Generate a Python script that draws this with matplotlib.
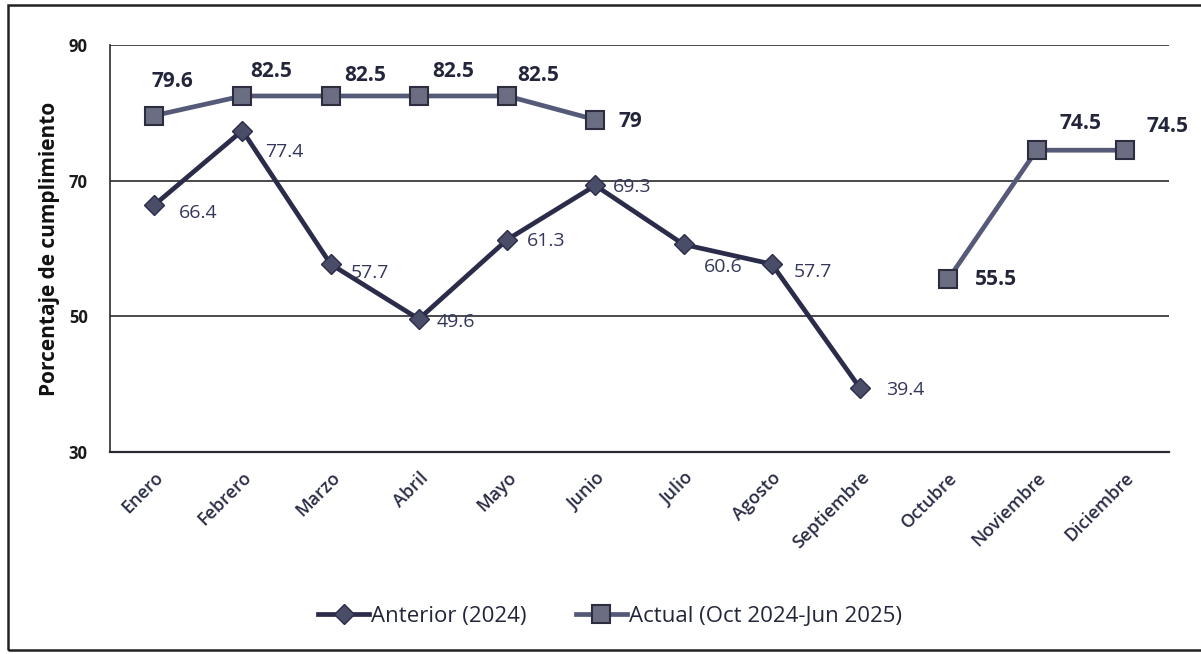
import matplotlib.pyplot as plt
from matplotlib.patches import Rectangle
import numpy as np

plt.rcParams['font.family'] = ['Open Sans', 'DejaVu Sans']

meses = ["Enero", "Febrero", "Marzo", "Abril", "Mayo", "Junio", "Julio",
         "Agosto", "Septiembre", "Octubre", "Noviembre", "Diciembre"]
anterior = [66.4, 77.4, 57.7, 49.6, 61.3, 69.3, 60.6, 57.7, 39.4,
            np.nan, np.nan, np.nan]
actual = [79.6, 82.5, 82.5, 82.5, 82.5, 79, np.nan, np.nan, np.nan,
          55.5, 74.5, 74.5]
yticks = [30, 50, 70, 90]

# desplazamiento de etiquetas (px) como en el original
off_ant = [(25, -8), (23, -21), (20, -9), (18, -3), (20, -1), (18, -2),
           (20, -23), (22, -8), (26, -2), None, None, None]
off_act = [(-3, 34), (8, 24), (14, 20), (13, 24), (10, 20), (23, -2),
           None, None, None, (27, 0), (23, 27), (22, 24)]

c_ant = '#2a2c4a'
c_act = '#555a78'
c_txt = '#23263a'

fig = plt.figure(figsize=(12.01, 6.54), dpi=100)
ax = fig.add_axes([0.0916, 0.309, 0.8817, 0.622])

x = np.arange(len(meses))
ax.plot(x, anterior, color=c_ant, lw=3.4, marker='D', ms=10,
        mfc='#4a4d68', mec=c_ant, label="Anterior (2024)", zorder=3)
ax.plot(x, actual, color=c_act, lw=3.4, marker='s', ms=13,
        mfc='#6b6e82', mec='#2c2e40', mew=1.5,
        label="Actual (Oct 2024-Jun 2025)", zorder=4)

# etiquetas
px = 0.72
for i, v in enumerate(anterior):
    if not np.isnan(v):
        dx, dy = off_ant[i]
        ax.annotate(f"{v:g}", (i, v), xytext=(dx * px, dy * px), textcoords='offset points',
                    fontsize=14, color='#33375a', va='center', ha='left')
for i, v in enumerate(actual):
    if not np.isnan(v):
        dx, dy = off_act[i]
        ax.annotate(f"{v:g}", (i, v), xytext=(dx * px, dy * px), textcoords='offset points',
                    fontsize=15, fontweight='bold', color=c_txt, va='center', ha='left')

ax.set_xlim(-0.5, len(meses) - 0.5)
ax.set_ylim(30, 90)
ax.set_yticks(yticks)
ax.set_yticklabels([str(t) for t in yticks], fontsize=12, fontweight='bold', color='#1a1a1a')
ax.set_xticks(x)
ax.set_xticklabels(meses, rotation=45, ha='right', rotation_mode='anchor',
                   fontsize=13, fontweight='semibold', color='#2a2d45')
ax.tick_params(axis='x', length=0, pad=12)
ax.tick_params(axis='y', length=0, pad=16)
ax.grid(axis='y', color='#2a2a30', lw=1.2)
ax.set_axisbelow(True)
for s in ['top', 'right']:
    ax.spines[s].set_visible(False)
ax.spines['left'].set_color('#2a2a30')
ax.spines['left'].set_linewidth(1.2)
ax.spines['bottom'].set_color('#2a2a30')
ax.spines['bottom'].set_linewidth(1.6)

ax.set_ylabel("Porcentaje de cumplimiento", fontsize=15, fontweight='bold',
              color='#111111', labelpad=6)

leg = fig.legend(loc='center', bbox_to_anchor=(0.508, 0.057), ncol=2, frameon=False,
                 fontsize=16, handlelength=2.3, columnspacing=2.2, handletextpad=0.1)
for t in leg.get_texts():
    t.set_color(c_txt)

fig.patches.append(Rectangle((0.007, 0.006), 1.1, 0.987, transform=fig.transFigure,
                             fill=False, ec='#222222', lw=1.8))

fig.savefig("out.png", dpi=100)
